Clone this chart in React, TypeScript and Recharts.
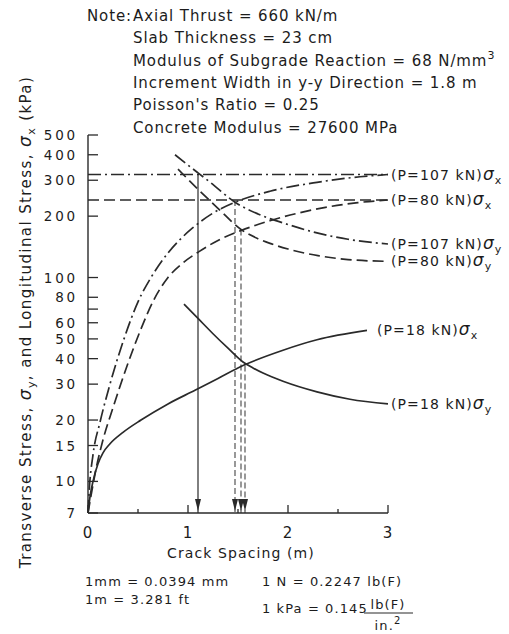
import React from 'react';
import { LineChart, Line, XAxis, YAxis, ReferenceLine, ReferenceDot } from 'recharts';

// axis ticks
const xTicks = [0, 0.5, 1, 1.5, 2, 2.5, 3];
const yTicks = [7, 10, 15, 20, 30, 40, 50, 60, 70, 80, 100, 200, 300, 400, 500];

// [crack spacing (m), stress (kPa)]
const p107Sx = [[0, 7], [0.01, 8.7], [0.05, 13.5], [0.12, 19.5], [0.22, 30], [0.36, 50], [0.5, 76], [0.63, 100], [0.8, 132], [0.94, 157], [1.04, 174], [1.25, 207], [1.47, 234], [1.82, 265], [2.29, 293], [2.72, 312], [3, 320]];
const p80Sx = [[0, 7], [0.03, 8.5], [0.08, 11.5], [0.15, 16], [0.25, 23], [0.4, 38], [0.53, 56], [0.66, 78], [0.8, 100], [0.95, 118], [1.11, 134], [1.3, 152], [1.53, 170], [1.82, 190], [2.12, 208], [2.4, 222], [2.7, 233], [3, 240]];
const p107Sy = [[0.87, 400], [1.0, 356], [1.1, 326], [1.23, 291], [1.47, 234], [1.7, 205], [2.0, 182], [2.3, 165], [2.6, 154], [3, 146]];
const p80Sy = [[0.9, 340], [1.11, 268], [1.31, 216], [1.53, 172], [1.7, 155], [1.82, 147], [2.0, 138], [2.3, 128], [2.6, 122.5], [3, 120]];
const p18Sx = [[0, 7], [0.02, 8.4], [0.05, 10], [0.1, 12.2], [0.15, 13.8], [0.22, 15.3], [0.35, 17.4], [0.53, 20], [0.8, 24], [1.07, 28], [1.3, 32], [1.55, 37], [1.95, 44], [2.29, 49.5], [2.79, 55]];
const p18Sy = [[0.96, 74], [1.1, 63], [1.25, 53], [1.4, 45], [1.55, 38.5], [1.65, 36], [1.75, 34], [1.95, 31], [2.29, 27.5], [2.62, 25.3], [3, 24]];

// limits and where the arrows drop to the axis
const limitLines = [{ y: 320, dash: '13 4 2 4' }, { y: 240, dash: '11 5' }];
const arrows = [
  { x: 1.1, from: 320, dash: undefined },
  { x: 1.47, from: 240, dash: '6 3' },
  { x: 1.53, from: 172, dash: '6 3' },
  { x: 1.57, from: 37, dash: '6 3' },
];

const FONT = '"DejaVu Sans", sans-serif';
const INK = '#2a2a2a';
const DASHDOT = '13 4 2 4';
const DASHED = '11 5';

const toPts = (arr: number[][]) => arr.map(([x, y]) => ({ x, y }));

const series = [
  { key: 'p107Sx', data: toPts(p107Sx), dash: DASHDOT, load: '107', sub: 'x', dx: 3 },
  { key: 'p80Sx', data: toPts(p80Sx), dash: DASHED, load: '80', sub: 'x', dx: 3 },
  { key: 'p107Sy', data: toPts(p107Sy), dash: DASHDOT, load: '107', sub: 'y', dx: 3 },
  { key: 'p80Sy', data: toPts(p80Sy), dash: DASHED, load: '80', sub: 'y', dx: 3 },
  { key: 'p18Sx', data: toPts(p18Sx), dash: undefined, load: '18', sub: 'x', dx: 10 },
  { key: 'p18Sy', data: toPts(p18Sy), dash: undefined, load: '18', sub: 'y', dx: 3 },
];

const txt = { fontFamily: FONT, fill: '#1c1c1c', fontSize: 14, letterSpacing: 1.1 };

const YTick = (props: any) => {
  const { x, y, payload } = props;
  const ax = x + 8;
  const v = payload.value;
  return (
    <g>
      <line x1={ax} x2={ax + 10} y1={y} y2={y} stroke={INK} strokeWidth={1.3} />
      {v !== 70 && (
        <text x={x - 2} y={y} dy={5} textAnchor="end" {...txt} fontSize={13.5} letterSpacing={2.8}>{v}</text>
      )}
    </g>
  );
};

const XTick = (props: any) => {
  const { x, y, payload } = props;
  const ay = y - 12;
  const v = payload.value;
  const major = Number.isInteger(v);
  return (
    <g>
      <line x1={x} x2={x} y1={ay} y2={ay - (major ? 8 : 4)} stroke={INK} strokeWidth={1.3} />
      {major && (
        <text x={x} y={ay + 25} textAnchor="middle" {...txt} fontSize={15}>{v}</text>
      )}
    </g>
  );
};

const ArrowHead = (props: any) => {
  const { cx, cy } = props;
  return <polygon points={`${cx - 3},${cy - 14} ${cx + 3},${cy - 14} ${cx},${cy - 2}`} fill={INK} />;
};

const endLabel = (s: any) => (p: any) => {
  if (p.index !== s.data.length - 1) return null;
  return (
    <text x={p.x + s.dx} y={p.y} dy={5} {...txt}>
      (P={s.load} kN)<tspan fontStyle="italic" fontSize={17}>σ</tspan>
      <tspan fontSize={11} dy={4}>{s.sub}</tspan>
    </text>
  );
};

const App: React.FC = () => {
  return (
    <div style={{ position: 'relative', width: 509, height: 634, background: '#fff' }}>
      <style>{'body{margin:0}'}</style>
      <LineChart width={509} height={634} margin={{ top: 135, right: 121, bottom: 91, left: 28 }}>
        <XAxis
          type="number"
          dataKey="x"
          domain={[0, 3]}
          ticks={xTicks}
          interval={0}
          height={30}
          tickSize={0}
          tickMargin={12}
          tick={<XTick />}
          axisLine={{ stroke: INK, strokeWidth: 1.4 }}
          allowDuplicatedCategory={false}
        />
        <YAxis
          type="number"
          scale="log"
          domain={[7, 500]}
          ticks={yTicks}
          interval={0}
          width={60}
          tickSize={0}
          tickMargin={8}
          tick={<YTick />}
          axisLine={{ stroke: INK, strokeWidth: 1.4 }}
          allowDataOverflow
        />
        {limitLines.map((l) => (
          <ReferenceLine key={l.y} y={l.y} stroke={INK} strokeWidth={1.5} strokeDasharray={l.dash} />
        ))}
        {arrows.map((a) => (
          <ReferenceLine
            key={a.x}
            segment={[{ x: a.x, y: a.from }, { x: a.x, y: 7 }]}
            stroke={a.dash ? '#555' : INK}
            strokeWidth={1.2}
            strokeDasharray={a.dash}
          />
        ))}
        {arrows.map((a) => (
          <ReferenceDot key={'h' + a.x} x={a.x} y={7} shape={<ArrowHead />} />
        ))}
        {series.map((s) => (
          <Line
            key={s.key}
            data={s.data}
            dataKey="y"
            type="monotone"
            stroke={INK}
            strokeWidth={1.7}
            strokeDasharray={s.dash}
            dot={false}
            activeDot={false}
            isAnimationActive={false}
            label={endLabel(s)}
          />
        ))}
      </LineChart>
      <svg width={509} height={634} style={{ position: 'absolute', left: 0, top: 0, pointerEvents: 'none' }}>
        <g {...txt} fontSize={15} letterSpacing={0.9}>
          <text x={87} y={21}>Note:</text>
          <text x={133} y={21}>Axial Thrust = 660 kN/m</text>
          <text x={133} y={43}>Slab Thickness = 23 cm</text>
          <text x={133} y={66}>
            Modulus of Subgrade Reaction = 68 N/mm<tspan fontSize={11} dy={-7}>3</tspan>
          </text>
          <text x={133} y={88}>Increment Width in y-y Direction = 1.8 m</text>
          <text x={133} y={110}>Poisson's Ratio = 0.25</text>
          <text x={133} y={133}>Concrete Modulus = 27600 MPa</text>
        </g>
        <g {...txt}>
          <text transform="translate(31,322) rotate(-90)" textAnchor="middle" fontSize={15} letterSpacing={1.4}>
            Transverse Stress, <tspan fontStyle="italic" fontSize={17}>σ</tspan>
            <tspan fontSize={11} dy={4}>y</tspan>
            <tspan dy={-4}>, and Longitudinal Stress, </tspan>
            <tspan fontStyle="italic" fontSize={17}>σ</tspan>
            <tspan fontSize={11} dy={4}>x</tspan>
            <tspan dy={-4}> (kPa)</tspan>
          </text>

          <text x={241} y={558} textAnchor="middle">Crack Spacing (m)</text>

          <text x={85} y={586} fontSize={13}>1mm = 0.0394 mm</text>
          <text x={85} y={604} fontSize={13}>1m = 3.281 ft</text>
          <text x={262} y={586} fontSize={13}>1 N = 0.2247 lb(F)</text>
          <text x={262} y={613} fontSize={13}>1 kPa = 0.145</text>
          <text x={388} y={609} fontSize={13} textAnchor="middle">lb(F)</text>
          <line x1={364} x2={413} y1={613} y2={613} stroke={INK} strokeWidth={1.2} />
          <text x={388} y={630} fontSize={13} textAnchor="middle">
            in.<tspan fontSize={10} dy={-6}>2</tspan>
          </text>
        </g>
      </svg>
    </div>
  );
};

export default App;
